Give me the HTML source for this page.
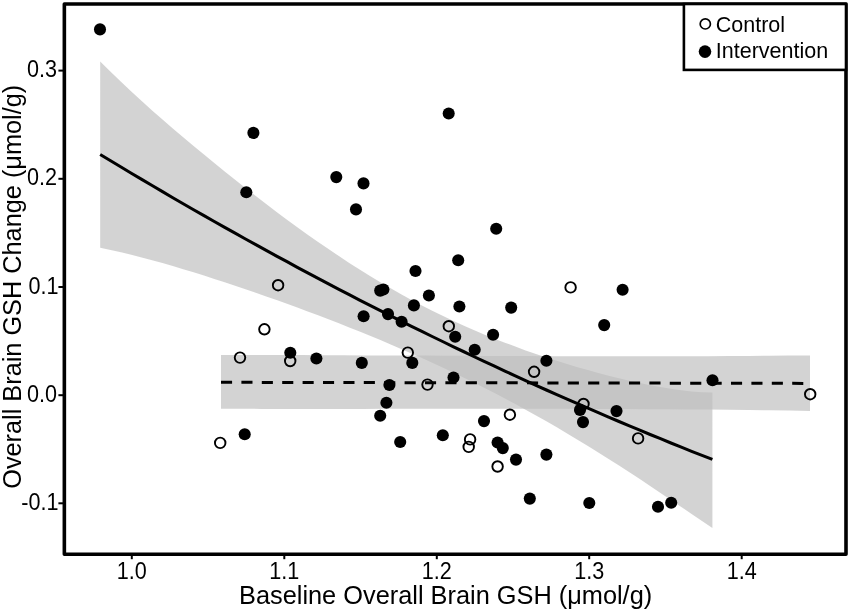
<!DOCTYPE html>
<html><head><meta charset="utf-8"><title>Brain GSH change vs baseline</title>
<style>
html,body{margin:0;padding:0;background:#fff;}
body{width:850px;height:612px;overflow:hidden;font-family:"Liberation Sans",sans-serif;}
svg{display:block;will-change:transform;}
text{font-family:"Liberation Sans",sans-serif;fill:#000;}
</style></head><body>
<svg width="850" height="612" viewBox="0 0 850 612">
<rect width="850" height="612" fill="#fff"/>
<!-- confidence bands -->
<path d="M100.2,61.4 L110.6,71.8 L121.0,81.8 L131.3,91.5 L141.7,101.1 L152.1,110.4 L162.5,119.5 L172.8,128.5 L183.2,137.3 L193.6,146.0 L204.0,154.6 L214.3,163.1 L224.7,171.5 L235.1,179.8 L245.5,188.0 L255.8,196.1 L266.2,204.1 L276.6,211.9 L287.0,219.7 L297.3,227.2 L307.7,234.7 L318.1,242.0 L328.5,249.1 L338.9,256.1 L349.2,262.9 L359.6,269.6 L370.0,276.0 L380.4,282.3 L390.7,288.3 L401.1,294.2 L411.5,299.9 L421.9,305.4 L432.2,310.7 L442.6,315.8 L453.0,320.7 L463.4,325.5 L473.7,330.1 L484.1,334.4 L494.5,338.7 L504.9,342.7 L515.3,346.6 L525.6,350.4 L536.0,354.0 L546.4,357.5 L556.8,360.8 L567.1,364.1 L577.5,367.2 L587.9,370.1 L598.3,373.0 L608.6,375.7 L619.0,378.3 L629.4,380.8 L639.8,383.1 L650.1,385.2 L660.5,387.1 L670.9,388.8 L681.3,390.3 L691.6,391.4 L702.0,392.2 L712.4,392.6 L712.4,528.1 L702.0,521.0 L691.6,513.9 L681.3,506.9 L670.9,499.9 L660.5,492.9 L650.1,485.9 L639.8,479.1 L629.4,472.3 L619.0,465.6 L608.6,458.9 L598.3,452.4 L587.9,446.0 L577.5,439.7 L567.1,433.4 L556.8,427.3 L546.4,421.3 L536.0,415.5 L525.6,409.7 L515.3,404.0 L504.9,398.5 L494.5,393.1 L484.1,387.7 L473.7,382.5 L463.4,377.4 L453.0,372.4 L442.6,367.5 L432.2,362.7 L421.9,358.0 L411.5,353.4 L401.1,348.9 L390.7,344.4 L380.4,340.1 L370.0,335.8 L359.6,331.5 L349.2,327.4 L338.9,323.3 L328.5,319.3 L318.1,315.3 L307.7,311.4 L297.3,307.6 L287.0,303.8 L276.6,300.1 L266.2,296.4 L255.8,292.8 L245.5,289.2 L235.1,285.7 L224.7,282.2 L214.3,278.9 L204.0,275.5 L193.6,272.3 L183.2,269.2 L172.8,266.1 L162.5,263.1 L152.1,260.2 L141.7,257.5 L131.3,254.8 L121.0,252.3 L110.6,250.0 L100.2,247.8 Z" fill="#bebebe" fill-opacity="0.68"/>
<path d="M221.0,355.0 L241.3,355.0 L261.6,355.0 L281.9,355.1 L302.2,355.1 L322.6,355.2 L342.9,355.3 L363.2,355.4 L383.5,355.4 L403.8,355.5 L424.1,355.6 L444.4,355.7 L464.7,355.8 L485.0,355.9 L505.3,356.0 L525.7,356.1 L546.0,356.2 L566.3,356.2 L586.6,356.3 L606.9,356.3 L627.2,356.3 L647.5,356.3 L667.8,356.3 L688.1,356.2 L708.4,356.2 L728.8,356.1 L749.1,355.9 L769.4,355.8 L789.7,355.6 L810.0,355.4 L810.0,410.9 L789.7,410.6 L769.4,410.3 L749.1,410.0 L728.8,409.8 L708.4,409.6 L688.1,409.4 L667.8,409.3 L647.5,409.2 L627.2,409.0 L606.9,409.0 L586.6,408.9 L566.3,408.8 L546.0,408.8 L525.7,408.8 L505.3,408.8 L485.0,408.8 L464.7,408.8 L444.4,408.8 L424.1,408.8 L403.8,408.8 L383.5,408.8 L363.2,408.9 L342.9,408.9 L322.6,408.9 L302.2,408.9 L281.9,408.9 L261.6,408.9 L241.3,408.8 L221.0,408.8 Z" fill="#bebebe" fill-opacity="0.68"/>
<!-- fit lines -->
<path d="M100.2,154.5 L110.6,160.8 L121.0,167.0 L131.3,173.2 L141.7,179.4 L152.1,185.5 L162.5,191.6 L172.8,197.7 L183.2,203.7 L193.6,209.7 L204.0,215.6 L214.3,221.5 L224.7,227.4 L235.1,233.2 L245.5,239.0 L255.8,244.7 L266.2,250.4 L276.6,256.1 L287.0,261.7 L297.3,267.3 L307.7,272.9 L318.1,278.4 L328.5,283.9 L338.9,289.3 L349.2,294.7 L359.6,300.1 L370.0,305.4 L380.4,310.7 L390.7,315.9 L401.1,321.1 L411.5,326.3 L421.9,331.4 L432.2,336.5 L442.6,341.5 L453.0,346.6 L463.4,351.5 L473.7,356.5 L484.1,361.4 L494.5,366.2 L504.9,371.1 L515.3,375.8 L525.6,380.6 L536.0,385.3 L546.4,390.0 L556.8,394.6 L567.1,399.2 L577.5,403.7 L587.9,408.2 L598.3,412.7 L608.6,417.1 L619.0,421.5 L629.4,425.9 L639.8,430.2 L650.1,434.5 L660.5,438.7 L670.9,443.0 L681.3,447.1 L691.6,451.3 L702.0,455.3 L712.4,459.4" fill="none" stroke="#000" stroke-width="3.05"/>
<line x1="221" y1="382.3" x2="810" y2="383.4" stroke="#000" stroke-width="3" stroke-dasharray="11.1 9.3"/>
<!-- control points -->
<g fill="none" stroke="#000" stroke-width="1.9">
<circle cx="278.1" cy="285.2" r="5.25"/>
<circle cx="264.4" cy="329.3" r="5.25"/>
<circle cx="240" cy="357.6" r="5.25"/>
<circle cx="290.2" cy="361.0" r="5.25"/>
<circle cx="220.2" cy="442.9" r="5.25"/>
<circle cx="448.8" cy="326.2" r="5.25"/>
<circle cx="407.8" cy="352.6" r="5.25"/>
<circle cx="427.5" cy="384.6" r="5.25"/>
<circle cx="534.1" cy="371.8" r="5.25"/>
<circle cx="509.9" cy="414.7" r="5.25"/>
<circle cx="470.1" cy="439.4" r="5.25"/>
<circle cx="468.7" cy="446.9" r="5.25"/>
<circle cx="497.6" cy="466.5" r="5.25"/>
<circle cx="570.6" cy="287.4" r="5.25"/>
<circle cx="583.5" cy="404" r="5.25"/>
<circle cx="638.1" cy="438.4" r="5.25"/>
<circle cx="810.2" cy="394.2" r="5.25"/>
</g>
<!-- intervention points -->
<g fill="#000">
<circle cx="100" cy="29.4" r="6.05"/>
<circle cx="253.4" cy="132.9" r="6.05"/>
<circle cx="246.3" cy="192.3" r="6.05"/>
<circle cx="290.3" cy="352.7" r="6.05"/>
<circle cx="316.4" cy="358.5" r="6.05"/>
<circle cx="244.7" cy="434.2" r="6.05"/>
<circle cx="448.7" cy="113.5" r="6.05"/>
<circle cx="336.3" cy="177.1" r="6.05"/>
<circle cx="363.5" cy="183.4" r="6.05"/>
<circle cx="356" cy="209.4" r="6.05"/>
<circle cx="496.2" cy="228.8" r="6.05"/>
<circle cx="458.2" cy="260.3" r="6.05"/>
<circle cx="415.5" cy="271" r="6.05"/>
<circle cx="380.2" cy="290.6" r="6.05"/>
<circle cx="383.4" cy="289.5" r="6.05"/>
<circle cx="428.9" cy="295.5" r="6.05"/>
<circle cx="413.9" cy="305.4" r="6.05"/>
<circle cx="459.4" cy="306.5" r="6.05"/>
<circle cx="511.2" cy="307.6" r="6.05"/>
<circle cx="363.6" cy="316.3" r="6.05"/>
<circle cx="388" cy="314.1" r="6.05"/>
<circle cx="401.6" cy="321.8" r="6.05"/>
<circle cx="455.2" cy="336.8" r="6.05"/>
<circle cx="493.1" cy="334.7" r="6.05"/>
<circle cx="474.7" cy="349.8" r="6.05"/>
<circle cx="412.3" cy="362.9" r="6.05"/>
<circle cx="361.8" cy="362.9" r="6.05"/>
<circle cx="453.5" cy="377.5" r="6.05"/>
<circle cx="389.4" cy="385.0" r="6.05"/>
<circle cx="386.4" cy="402.8" r="6.05"/>
<circle cx="380.2" cy="415.8" r="6.05"/>
<circle cx="400.2" cy="442.0" r="6.05"/>
<circle cx="442.8" cy="435.2" r="6.05"/>
<circle cx="484" cy="421.1" r="6.05"/>
<circle cx="497.6" cy="442.5" r="6.05"/>
<circle cx="502.8" cy="448.1" r="6.05"/>
<circle cx="516" cy="459.6" r="6.05"/>
<circle cx="529.8" cy="498.6" r="6.05"/>
<circle cx="622.6" cy="289.8" r="6.05"/>
<circle cx="604.2" cy="325.1" r="6.05"/>
<circle cx="546.4" cy="360.7" r="6.05"/>
<circle cx="712.5" cy="380.2" r="6.05"/>
<circle cx="580" cy="409.9" r="6.05"/>
<circle cx="583" cy="422.1" r="6.05"/>
<circle cx="616.5" cy="411.1" r="6.05"/>
<circle cx="546.4" cy="454.6" r="6.05"/>
<circle cx="589.3" cy="503" r="6.05"/>
<circle cx="658" cy="506.7" r="6.05"/>
<circle cx="671.2" cy="502.7" r="6.05"/>
</g>
<!-- frame -->
<rect x="64.35" y="4.0" width="781.65" height="550.2" fill="none" stroke="#000" stroke-width="3.6" stroke-linejoin="round"/>
<g stroke="#000" stroke-width="2">
<line x1="131.8" y1="555.5" x2="131.8" y2="559.2"/>
<line x1="284.3" y1="555.5" x2="284.3" y2="559.2"/>
<line x1="436.8" y1="555.5" x2="436.8" y2="559.2"/>
<line x1="589.2" y1="555.5" x2="589.2" y2="559.2"/>
<line x1="741.7" y1="555.5" x2="741.7" y2="559.2"/>
<line x1="58.4" y1="70.6" x2="63" y2="70.6"/>
<line x1="58.4" y1="178.8" x2="63" y2="178.8"/>
<line x1="58.4" y1="287.0" x2="63" y2="287.0"/>
<line x1="58.4" y1="395.2" x2="63" y2="395.2"/>
<line x1="58.4" y1="503.3" x2="63" y2="503.3"/>
</g>
<g font-size="21.6px">
<text transform="translate(131.8,579.3) scale(1,1.065)" text-anchor="middle">1.0</text>
<text transform="translate(284.3,579.3) scale(1,1.065)" text-anchor="middle">1.1</text>
<text transform="translate(436.8,579.3) scale(1,1.065)" text-anchor="middle">1.2</text>
<text transform="translate(589.2,579.3) scale(1,1.065)" text-anchor="middle">1.3</text>
<text transform="translate(741.7,579.3) scale(1,1.065)" text-anchor="middle">1.4</text>
<text transform="translate(56.9,77.1) scale(1,1.065)" text-anchor="end">0.3</text>
<text transform="translate(56.9,185.3) scale(1,1.065)" text-anchor="end">0.2</text>
<text transform="translate(58.5,293.5) scale(1,1.065)" text-anchor="end">0.1</text>
<text transform="translate(56.9,401.7) scale(1,1.065)" text-anchor="end">0.0</text>
<text transform="translate(58.5,509.8) scale(1,1.065)" text-anchor="end">-0.1</text>
</g>
<text x="445.6" y="603.8" font-size="25.35px" text-anchor="middle">Baseline Overall Brain GSH (μmol/g)</text>
<text transform="translate(20.8,286.8) rotate(-90)" font-size="25.3px" text-anchor="middle">Overall Brain GSH Change (μmol/g)</text>
<!-- legend -->
<rect x="683.9" y="4.0" width="162.1" height="65.9" fill="#fff" stroke="#000" stroke-width="2.6"/>
<circle cx="705.3" cy="23.9" r="5.1" fill="none" stroke="#000" stroke-width="1.7"/>
<circle cx="705.0" cy="51.6" r="6.3" fill="#000"/>
<g font-size="21.5px">
<text x="715.8" y="32.0">Control</text>
<text x="715.8" y="58.1">Intervention</text>
</g>
</svg>
</body></html>
